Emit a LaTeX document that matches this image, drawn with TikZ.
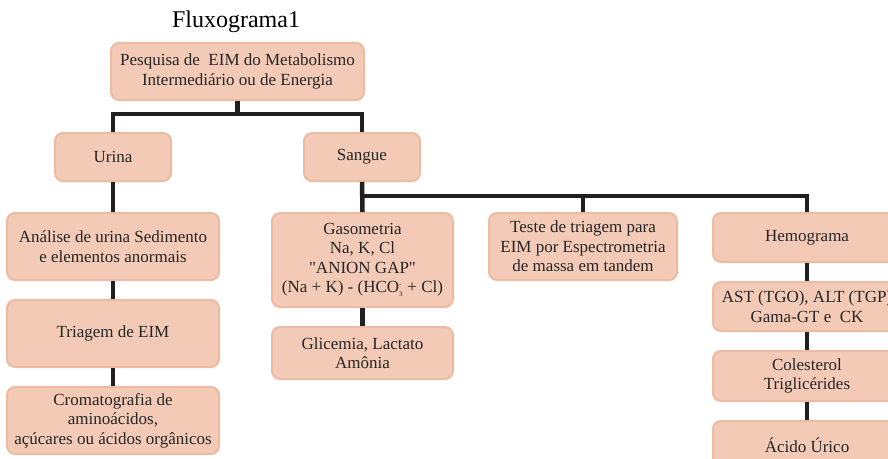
\documentclass[tikz,border=0pt]{standalone}
\usepackage{fontspec}
\setmainfont{Liberation Serif}[Ligatures=TeXOff]
\usetikzlibrary{positioning}

\definecolor{boxfill}{HTML}{F2CAB6}
\definecolor{boxedge}{HTML}{EDBBA2}
\definecolor{linkcol}{HTML}{231F20}

\tikzstyle{exam} = [rectangle, rounded corners=8pt, align=center, text centered, fill=boxfill, draw=boxedge, line width=2pt, inner sep=2pt, text=black!85, font=\fontsize{17}{19.5}\selectfont]
\tikzstyle{link} = [line width=4.5pt, draw=linkcol]

\begin{document}
\begin{tikzpicture}[x=1pt, y=-1pt, node distance=18pt]
\useasboundingbox (0,0) rectangle (888,458);
\clip (0,0) rectangle (888,458);

\node (title) at (236,22) {\fontsize{24}{28}\selectfont Fluxograma1};
\node (top) [exam, minimum width=253pt, minimum height=57pt] at (237.5,71.5) {Pesquisa de\ \ EIM do Metabolismo\\Intermediário ou de Energia};

% urina
\node (urina) [exam, minimum width=116pt, minimum height=48pt] at (113,157) {Urina};
\node (analise) [exam, minimum width=212pt, minimum height=67pt] at (113,246.5) {Análise de urina Sedimento\\e elementos anormais};
\node (triagem) [exam, minimum width=212pt, minimum height=67pt, below=of analise] {Triagem de EIM};
\node (cromato) [exam, minimum width=212pt, minimum height=67pt, below=of triagem] {Cromatografia de\\aminoácidos,\\açúcares ou ácidos orgânicos};

% sangue
\node (sangue) [exam, minimum width=116pt, minimum height=48pt] at (362,157) {Sangue};
\node (gaso) [exam, minimum width=181pt, minimum height=94pt] at (362.5,260) {Gasometria\\Na, K, Cl\\"ANION GAP"\\(Na + K) - (HCO$_{\mbox{\scriptsize 3}}^{\mbox{\scriptsize -}}$ + Cl)};
\node (glicemia) [exam, minimum width=181pt, minimum height=52pt, below=of gaso] {Glicemia, Lactato\\Amônia};
\node (teste) [exam, minimum width=188pt, minimum height=67pt] at (583,246.5) {Teste de triagem para\\EIM por Espectrometria\\de massa em tandem};
\node (hemo) [exam, minimum width=188pt, minimum height=49pt] at (807,237.5) {Hemograma};
\node (ast) [exam, minimum width=188pt, minimum height=49pt, below=of hemo] {AST (TGO), ALT (TGP)\\Gama-GT e\ \ CK};
\node (coles) [exam, minimum width=188pt, minimum height=50pt, below=of ast] {Colesterol\\Triglicérides};
\node (urico) [exam, minimum width=188pt, minimum height=49pt, below=of coles] {Ácido Úrico};

\draw [link] (top.south) -- ++(0,13) -| (urina.north);
\draw [link] (top.south) -- ++(0,13) -| (sangue.north);
\draw [link] (urina) -- (analise);
\draw [link] (analise) -- (triagem);
\draw [link] (triagem) -- (cromato);
\draw [link] (sangue.south) -- (gaso.north);
\draw [link] (sangue.south) ++(0,14) -| (teste.north);
\draw [link] (sangue.south) ++(0,14) -| (hemo.north);
\draw [link] (gaso) -- (glicemia);
\draw [link] (hemo) -- (ast);
\draw [link] (ast) -- (coles);
\draw [link] (coles) -- (urico);
\end{tikzpicture}
\end{document}
